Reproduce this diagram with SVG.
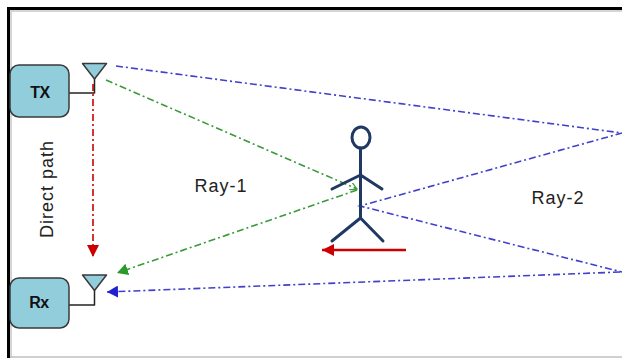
<svg xmlns="http://www.w3.org/2000/svg" width="622" height="358" viewBox="0 0 622 358">
  <style>
    .box { fill: #92cddc; stroke: #3a3a3a; stroke-width: 1.5; }
    .ant { fill: #92cddc; stroke: #3a3a3a; stroke-width: 1.5; stroke-linejoin: round; }
    .feed { fill: none; stroke: #222; stroke-width: 1.5; }
    .boxlabel { font-family: "Liberation Sans", Arial, sans-serif; font-weight: bold; font-size: 16px; fill: #111; text-anchor: middle; letter-spacing: -0.5px; }
    .label { font-family: "Liberation Sans", Arial, sans-serif; font-size: 18px; fill: #222; text-anchor: middle; letter-spacing: 1px; }
    .ray { fill: none; stroke-width: 1.6; stroke-dasharray: 7 3 2 3; }
    .blue { stroke: #3f3fd0; }
    .green { stroke: #3a9a3a; }
    .red { stroke: #cc0000; }
    .person { fill: none; stroke: #1f3864; stroke-width: 3; stroke-linecap: round; stroke-linejoin: round; }
  </style>
  <defs>
    <marker id="ahBlue" markerUnits="userSpaceOnUse" markerWidth="12" markerHeight="12" refX="11" refY="6" orient="auto">
      <path d="M0,0 L11,6 L0,12 Z" fill="#2020d0"/>
    </marker>
    <marker id="ahGreen" markerUnits="userSpaceOnUse" markerWidth="12" markerHeight="12" refX="11" refY="6" orient="auto">
      <path d="M0,0 L11,6 L0,12 Z" fill="#2a9a2a"/>
    </marker>
    <marker id="ahGreenSmall" markerUnits="userSpaceOnUse" markerWidth="8" markerHeight="8" refX="7" refY="4" orient="auto">
      <path d="M0,0 L7,4 L0,8" fill="none" stroke="#3a9a3a" stroke-width="1.2"/>
    </marker>
    <marker id="ahRed" markerUnits="userSpaceOnUse" markerWidth="13" markerHeight="12" refX="12" refY="6" orient="auto">
      <path d="M0,0 L12,6 L0,12 Z" fill="#cc0000"/>
    </marker>
  </defs>

  <rect width="622" height="358" fill="#ffffff"/>

  <!-- frame -->
  <g id="frame">
    <path d="M11,358 V11 H622" fill="none" stroke="#c8c8c8" stroke-width="1.5"/>
    <path d="M8.5,358 V8.5 H622" fill="none" stroke="#000" stroke-width="3"/>
    <line x1="10" y1="357" x2="622" y2="357" stroke="#c0c0c0" stroke-width="1.5"/>
  </g>

  <!-- connectors -->
  <g id="connectors">
    <line class="ray red" x1="93" y1="84" x2="93" y2="257" marker-end="url(#ahRed)"/>
    <line class="ray green" x1="106" y1="80" x2="357" y2="189" marker-end="url(#ahGreenSmall)"/>
    <line class="ray green" x1="357" y1="190" x2="117" y2="273" marker-end="url(#ahGreen)"/>
    <polyline class="ray blue" points="116,66 622,133 360,206 622,272"/>
    <line class="ray blue" x1="620" y1="272" x2="107" y2="292" marker-end="url(#ahBlue)"/>
  </g>

  <g id="tx">
    <line class="feed" x1="69" y1="93" x2="94.5" y2="93"/>
    <line class="feed" x1="94.5" y1="93.5" x2="94.5" y2="78"/>
    <rect class="box" x="10" y="65" width="59" height="52" rx="9"/>
    <polygon class="ant" points="82.5,63.5 106.5,63.5 94.5,79"/>
    <text class="boxlabel" x="40" y="98">TX</text>
  </g>

  <g id="rx">
    <line class="feed" x1="69" y1="305" x2="94.5" y2="305"/>
    <line class="feed" x1="94.5" y1="305.5" x2="94.5" y2="290"/>
    <rect class="box" x="10" y="278" width="59" height="50" rx="9"/>
    <polygon class="ant" points="82.5,275 106.5,275 94.5,290.5"/>
    <text class="boxlabel" x="39" y="308">Rx</text>
  </g>

  <g id="person">
    <ellipse class="person" cx="361" cy="137.5" rx="9" ry="10.5"/>
    <line class="person" x1="360.5" y1="148" x2="360.5" y2="218"/>
    <polyline class="person" points="332,189 360.5,175 382,189"/>
    <polyline class="person" points="332,241 360.5,218 383,241"/>
  </g>

  <g id="motion">
    <line x1="406" y1="250" x2="322" y2="250" stroke="#cc0000" stroke-width="2.5" marker-end="url(#ahRed)"/>
  </g>

  <g id="labels">
    <text class="label" x="221" y="192">Ray-1</text>
    <text class="label" x="558" y="204">Ray-2</text>
    <text class="label" transform="translate(53,189) rotate(-90)" x="0" y="0">Direct path</text>
  </g>
</svg>
